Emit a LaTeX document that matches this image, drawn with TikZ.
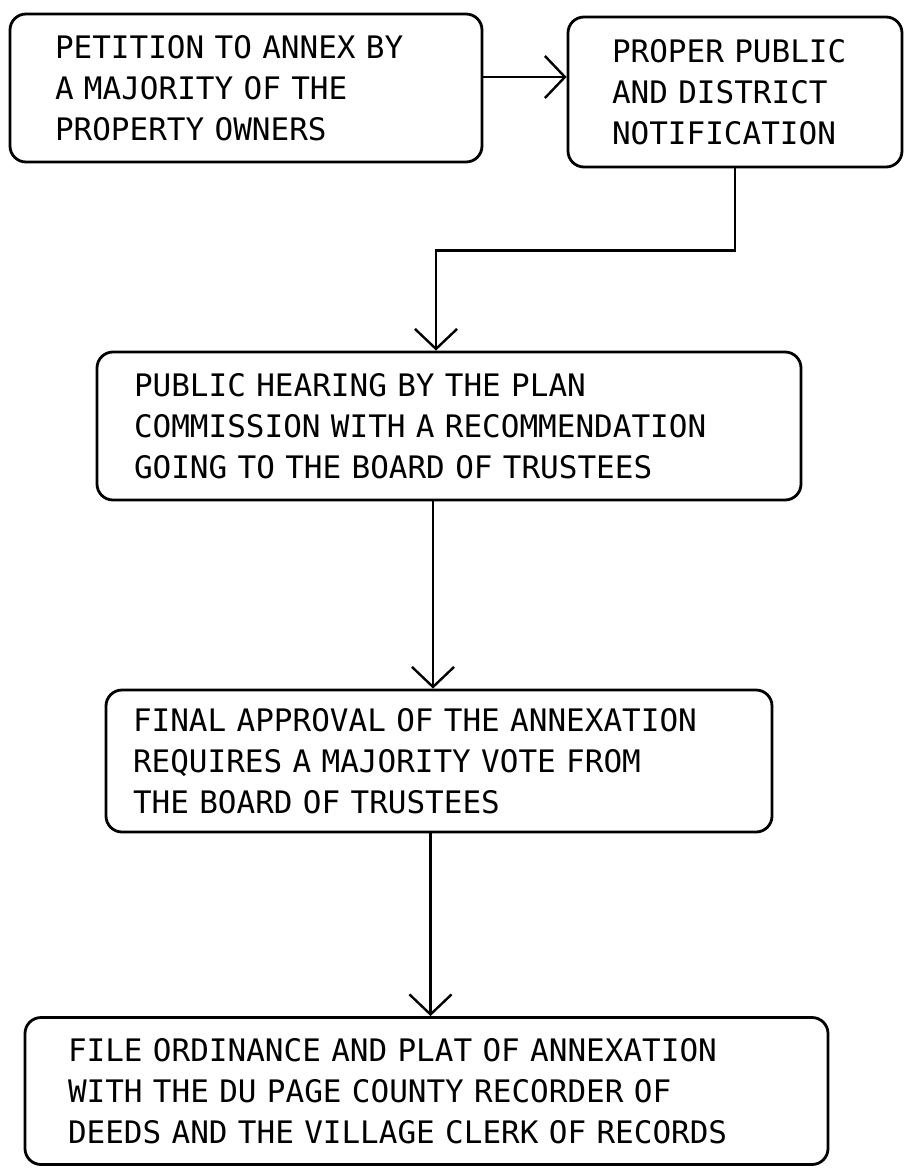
\documentclass[tikz,border=0pt]{standalone}
\usepackage{fontspec}
\setmonofont{DejaVu Sans Mono}
\usetikzlibrary{arrows.meta,calc}
\tikzset{
  box/.style={draw, line width=2.8pt, rounded corners=16pt, rectangle, align=left,
    font=\ttfamily\fontsize{31}{41}\selectfont, inner ysep=0pt, anchor=center},
  arr/.style={line width=2.4pt, -{Straight Barb[length=20pt,width=42pt,line width=2.4pt]}},
}
\begin{document}
\begin{tikzpicture}[x=1pt,y=-1pt]
\useasboundingbox (0,0) rectangle (904,1169);
\node[box, minimum height=148pt, inner xsep=45pt, text width=382pt] (b1) at (246,88)
  {PETITION TO ANNEX BY\\A MAJORITY OF THE\\PROPERTY OWNERS};
\node[box, minimum height=150pt, inner xsep=44pt, text width=246pt] (b2) at (735,92)
  {PROPER PUBLIC\\AND DISTRICT\\NOTIFICATION};
\node[box, minimum height=148pt, inner xsep=37pt, text width=630pt] (b3) at (449,426)
  {PUBLIC HEARING BY THE PLAN\\COMMISSION WITH A RECOMMENDATION\\GOING TO THE BOARD OF TRUSTEES};
\node[box, minimum height=142pt, inner xsep=27pt, text width=612pt] (b4) at (439,761)
  {FINAL APPROVAL OF THE ANNEXATION\\REQUIRES A MAJORITY VOTE FROM\\THE BOARD OF TRUSTEES};
\node[box, minimum height=147pt, inner xsep=43pt, text width=717pt] (b5) at (426.5,1091)
  {FILE ORDINANCE AND PLAT OF ANNEXATION\\WITH THE DU PAGE COUNTY RECORDER OF\\DEEDS AND THE VILLAGE CLERK OF RECORDS};
\coordinate (a1) at ([yshift=11pt]b1.east);
\draw[arr] (a1) -- (a1 -| b2.west);
\coordinate (c3) at ([xshift=-13pt]b3.north);
\draw[arr] (b2.south) -- ++(0,82) -| (c3);
\coordinate (c4) at ([xshift=-6pt]b4.north);
\draw[arr] (c4 |- b3.south) -- (c4);
\coordinate (c5) at ([xshift=4pt]b5.north);
\draw[arr] (c5 |- b4.south) -- (c5);
\end{tikzpicture}
\end{document}
